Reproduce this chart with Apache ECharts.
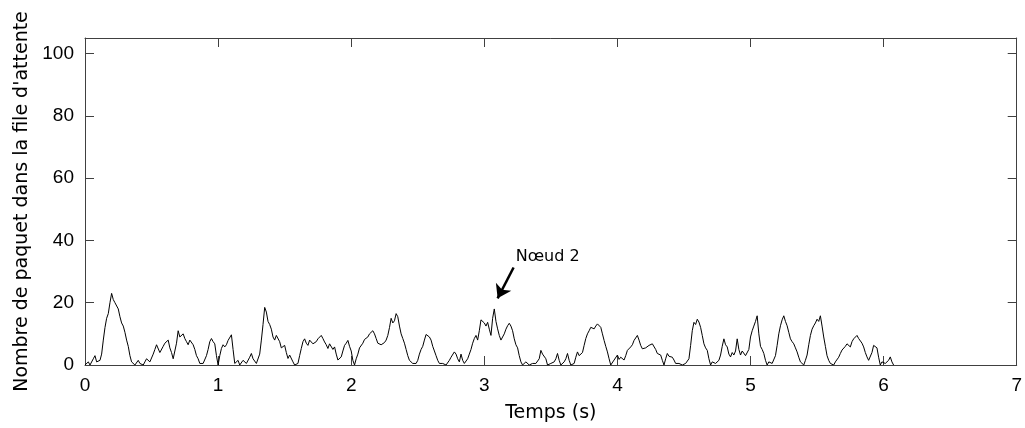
<!DOCTYPE html>
<html>
<head>
<meta charset="utf-8">
<script src="https://cdn.jsdelivr.net/npm/echarts@6/dist/echarts.min.js"></script>
<style>
  html, body { margin: 0; padding: 0; background: #fff; }
  #main { width: 1025px; height: 428px; }
</style>
</head>
<body>
<div id="main"></div>
<script>
var step = 0.0125;
var queue = [
  0, 0.5, 1, 0, 0.5, 2, 3, 1, 0.5, 1.5, 3.5, 8, 12, 15, 16.5, 20, 23, 21, 20, 19.5,
  18, 15.5, 13.5, 12.5, 10.5, 8, 6, 3, 1, 0.5, 0, 0.5, 1.5, 0.5, 0, 0, 1, 2, 2.5, 1,
  0.5, 3.5, 5, 6.5, 6.5, 4, 4.5, 6, 7, 6.5, 8, 5.5, 4, 2, 2.5, 7, 11, 9, 9.5, 10,
  8.5, 7.5, 6.5, 8, 8.5, 6.5, 5, 3, 2, 0.5, 0, 0.5, 0, 3, 5, 7.5, 8.5, 7.5, 6.8, 3,
  0, 3, 5.3, 6.5, 5.8, 6.5, 7.9, 8.5, 9.7, 5, 0.5, 0, 1.5, 0, 0.5, 1.5, 2, 0.5, 1, 2.5,
  3.7, 2, 2.6, 0.5, 0, 3.5, 8, 13, 18.5, 17, 14, 13, 11.5, 9, 8, 9.5, 10, 7.5, 5.5, 6,
  6.3, 4, 2.1, 3.2, 2.6, 1, 0, 0, 0.5, 3, 5.3, 7.5, 8.4, 7, 6.3, 8, 7.4, 6.8, 6.3, 7.5,
  8.4, 8.8, 9.5, 8.5, 7.4, 6.5, 5.3, 6.8, 6.3, 5, 5.8, 3.5, 1.6, 2, 2.6, 4.5, 6.3, 7, 7.9, 6,
  4.5, 1.5, 0, 2, 3.5, 5.5, 5, 7, 8.2, 7.8, 9, 10, 10.5, 11, 10, 8.5, 7, 7.5, 6.5, 6.8,
  7.2, 8, 9.5, 12, 15, 13.5, 14.2, 16.5, 15.5, 12.5, 10, 8.5, 7, 5, 3, 1.5, 1, 0.5, 0, 0.5,
  1.5, 3.5, 5, 6, 8, 9.8, 9.5, 9, 8, 6, 4.5, 3, 1.5, 0.5, 0, 0.5, 1, 0, 0.5, 1.5,
  2.5, 3, 4.2, 3.5, 2, 1, 3.5, 1.5, 0.5, 0, 2, 3.5, 5, 7, 8.5, 9.5, 8, 11, 14.5, 14,
  13.5, 12.5, 13.7, 11.5, 9.5, 15, 18, 14, 11.6, 9.5, 8, 8.5, 10, 11.5, 12.6, 13.4, 12.5, 11, 8.4, 6.5,
  5.5, 3, 1, 0, 0, 1, 0.5, 0, 0, 0.5, 1, 0.5, 0, 2, 4.7, 3.5, 3.5, 2, 0, 0,
  0.5, 0, 1, 2, 3.7, 1.5, 0, 0.5, 1, 2, 3.7, 1.5, 0, 0, 0.5, 2.5, 4.2, 3, 2.6, 4,
  6.3, 8.5, 10, 11, 12.1, 12.5, 11.6, 12.5, 13.2, 13, 12.1, 10, 7.9, 6, 4.2, 2, 0, 0.5, 1.6, 2,
  3.2, 1.8, 2.5, 2.5, 1.6, 3, 4.7, 5.2, 5.8, 6.5, 7.9, 8.5, 9.5, 8, 6.3, 5.2, 4.7, 5.5, 5.8, 6.3,
  6.8, 6.8, 6.3, 5, 3.7, 4, 3.2, 1.5, 0, 2, 3.7, 2.8, 3.2, 2.5, 1.6, 0.5, 0, 0.5, 0, 0,
  0, 0.5, 0, 2, 6.3, 11, 13.7, 13, 14.7, 13.8, 12.1, 9.5, 6.8, 5.5, 4.7, 2, 0, 1, 1.6, 0.5,
  0, 1.5, 3.2, 6, 8.4, 6.5, 5.8, 3.5, 2.6, 4, 3.2, 4.5, 8.4, 5, 3.2, 4.5, 4.2, 3, 3.2, 5,
  9, 11, 12.5, 14, 15.8, 10, 6, 5, 3.7, 1.5, 0, 1, 1.6, 0.5, 0, 3, 6.3, 10, 12.6, 14.5,
  15.8, 14, 12.6, 10.5, 8.4, 7.5, 6.8, 5.5, 4.2, 2.5, 1, 0.5, 0, 1.5, 3.2, 6.5, 9.5, 11.5, 12.6, 13.5,
  14.7, 14, 15.8, 12.5, 9, 6, 3, 1.5, 0.5, 0, 0, 1, 1.6, 2.5, 3.7, 4.8, 5.3, 6, 6.8, 6.5,
  5.8, 7.5, 8.4, 9, 9.5, 8.5, 7.9, 7, 5.8, 4, 2.6, 1.5, 1, 4, 6.3, 6.5, 5.5, 2.5, 0, 1,
  1.6, 0.5, 0.5, 1.5, 2.6, 1, 0
];
var noteText = 'Nœud 2';
var noteArrow = [[3.22, 31.3], [3.10, 21.4]];
var notePos = [3.236, 34.7];

var data = queue.map(function (v, i) {
  return [+(i * step).toFixed(4), v];
});

var font = 'DejaVu Sans, sans-serif';
var tickFont = 'Liberation Sans, Arial, sans-serif';
var axisColor = '#404040';

var chart = echarts.init(document.getElementById('main'));
chart.setOption({
  animation: false,
  grid: { left: 85, right: 3, top: 38, bottom: 57, show: false },
  xAxis: [{
    type: 'value', min: 0, max: 7, interval: 1,
    name: 'Temps (s)', nameLocation: 'middle', nameGap: 39,
    nameTextStyle: { fontFamily: font, fontSize: 19, color: '#000' },
    axisLine: { show: true, lineStyle: { color: axisColor, width: 1 } },
    axisTick: { show: true, inside: true, length: 9, lineStyle: { color: axisColor } },
    axisLabel: { fontFamily: tickFont, fontSize: 19, color: '#000', margin: 11 },
    splitLine: { show: false }
  }, {
    type: 'value', min: 0, max: 7, interval: 1, position: 'top',
    axisLine: { show: true, onZero: false, lineStyle: { color: axisColor, width: 1 } },
    axisTick: { show: true, inside: true, length: 9, lineStyle: { color: axisColor } },
    axisLabel: { show: false },
    splitLine: { show: false }
  }],
  yAxis: [{
    type: 'value', min: 0, max: 105, interval: 20,
    name: "Nombre de paquet dans la file d'attente", nameLocation: 'middle', nameGap: 51,
    nameTextStyle: { fontFamily: font, fontSize: 19, color: '#000' },
    axisLine: { show: true, lineStyle: { color: axisColor, width: 1 } },
    axisTick: { show: true, inside: true, length: 9, lineStyle: { color: axisColor } },
    axisLabel: {
      fontFamily: tickFont, fontSize: 19, color: '#000', margin: 11, showMaxLabel: false,
      formatter: function (v) { return v > 100 ? '' : v; }
    },
    splitLine: { show: false }
  }, {
    type: 'value', min: 0, max: 105, interval: 20, position: 'right',
    axisLine: { show: true, onZero: false, lineStyle: { color: axisColor, width: 1 } },
    axisTick: { show: true, inside: true, length: 9, lineStyle: { color: axisColor } },
    axisLabel: { show: false },
    splitLine: { show: false }
  }],
  series: [{
    type: 'line',
    data: data,
    showSymbol: false,
    lineStyle: { color: '#000', width: 1 },
    markLine: {
      silent: true,
      symbol: ['none', 'arrow'],
      symbolSize: 13,
      lineStyle: { color: '#000', width: 2.5, type: 'solid' },
      label: { show: false },
      data: [[{ coord: noteArrow[0] }, { coord: noteArrow[1] }]]
    },
    markPoint: {
      silent: true,
      symbol: 'circle',
      symbolSize: 0,
      label: {
        show: true, position: [0, 0], align: 'left', verticalAlign: 'middle',
        formatter: noteText, fontFamily: font, fontSize: 16, color: '#000'
      },
      data: [{ coord: notePos }]
    }
  }]
});
</script>
</body>
</html>
